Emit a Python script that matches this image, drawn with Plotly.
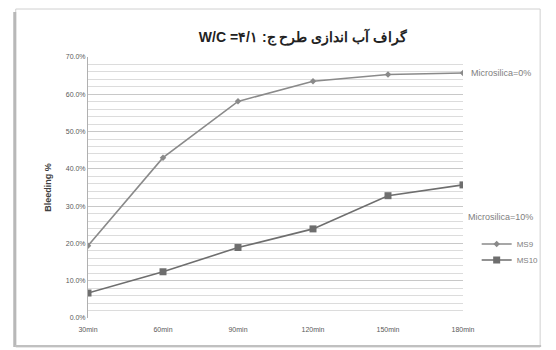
import plotly.graph_objects as go

categories = ["30min", "60min", "90min", "120min", "150min", "180min"]
ms9 = [0.194, 0.430, 0.581, 0.635, 0.653, 0.657]
ms10 = [0.067, 0.124, 0.189, 0.239, 0.328, 0.357]
series_names = ["MS9", "MS10"]
title_text = "W/C =۴/۱ :گراف آب اندازی طرح ج"
label_0 = "Microsilica=0%"
label_10 = "Microsilica=10%"
label_10_value = 0.272

FONT = "Liberation Sans"

fig = go.Figure()
fig.add_trace(go.Scatter(
    x=categories, y=ms9, name=series_names[0], mode="lines+markers",
    line=dict(color="#8a8a8a", width=1.6),
    marker=dict(symbol="diamond", size=5, color="#8a8a8a"),
    legend="legend",
))
fig.add_trace(go.Scatter(
    x=categories, y=ms10, name=series_names[1], mode="lines+markers",
    line=dict(color="#6e6e6e", width=1.6),
    marker=dict(symbol="square", size=7, color="#6e6e6e"),
    legend="legend2",
))

legend_common = dict(xanchor="left", yanchor="middle",
                     font=dict(size=8, color="#808080"), itemwidth=30,
                     bgcolor="rgba(0,0,0,0)")

fig.update_layout(
    width=556, height=350,
    margin=dict(l=88, r=84, t=57, b=32),
    paper_bgcolor="white", plot_bgcolor="white",
    font=dict(family=FONT, color="#595959", size=7),
    showlegend=True,
    legend=dict(x=(486 - 88) / 384, y=(318 - 244) / 261, **legend_common),
    legend2=dict(x=(486 - 88) / 384, y=(318 - 260) / 261, **legend_common),
    xaxis=dict(type="category", range=[0, 5], showgrid=False,
               showline=False, ticks="", tickfont=dict(size=7, color="#595959"),
               ticklabelstandoff=6, zeroline=False),
    yaxis=dict(range=[0, 0.70], dtick=0.1, tickformat=".1%",
               showgrid=True, gridcolor="#c8c8c8", gridwidth=1,
               minor=dict(dtick=0.02, showgrid=True, gridcolor="#dcdcdc", gridwidth=1),
               showline=True, linecolor="#b0b0b0", linewidth=1,
               ticks="", tickfont=dict(size=7, color="#595959"),
               title=dict(text="<b>Bleeding %</b>", font=dict(size=9, color="#404040"), standoff=12),
               zeroline=False),
    title=dict(text="<b>" + title_text + "</b>", x=303 / 556, xanchor="center",
               y=1 - 37 / 350, yanchor="middle",
               font=dict(size=14, color="#222222", family=FONT)),
)

fig.add_annotation(x=1.0, xref="paper", y=ms9[-1], yref="y", text=label_0,
                   showarrow=False, xanchor="left", xshift=6,
                   font=dict(size=9, color="#808080"))
fig.add_annotation(x=1.0, xref="paper", y=label_10_value, yref="y", text=label_10,
                   showarrow=False, xanchor="left", xshift=3,
                   font=dict(size=9, color="#808080"))

# chart frame with soft shadow
fig.add_shape(type="rect", xref="paper", yref="paper",
              x0=(14 - 88) / 384, x1=(551 - 88) / 384,
              y0=(318 - 347) / 261, y1=(318 - 9) / 261,
              line=dict(color="#d0d0d0", width=1), layer="below")
fig.add_shape(type="line", xref="paper", yref="paper",
              x0=(13 - 88) / 384, x1=(13 - 88) / 384,
              y0=(318 - 347) / 261, y1=(318 - 12) / 261,
              line=dict(color="#b8b8b8", width=3), layer="below")
fig.add_shape(type="line", xref="paper", yref="paper",
              x0=(13 - 88) / 384, x1=(552 - 88) / 384,
              y0=(318 - 346) / 261, y1=(318 - 346) / 261,
              line=dict(color="#c0c0c0", width=2), layer="below")

fig.write_html("out.html")
